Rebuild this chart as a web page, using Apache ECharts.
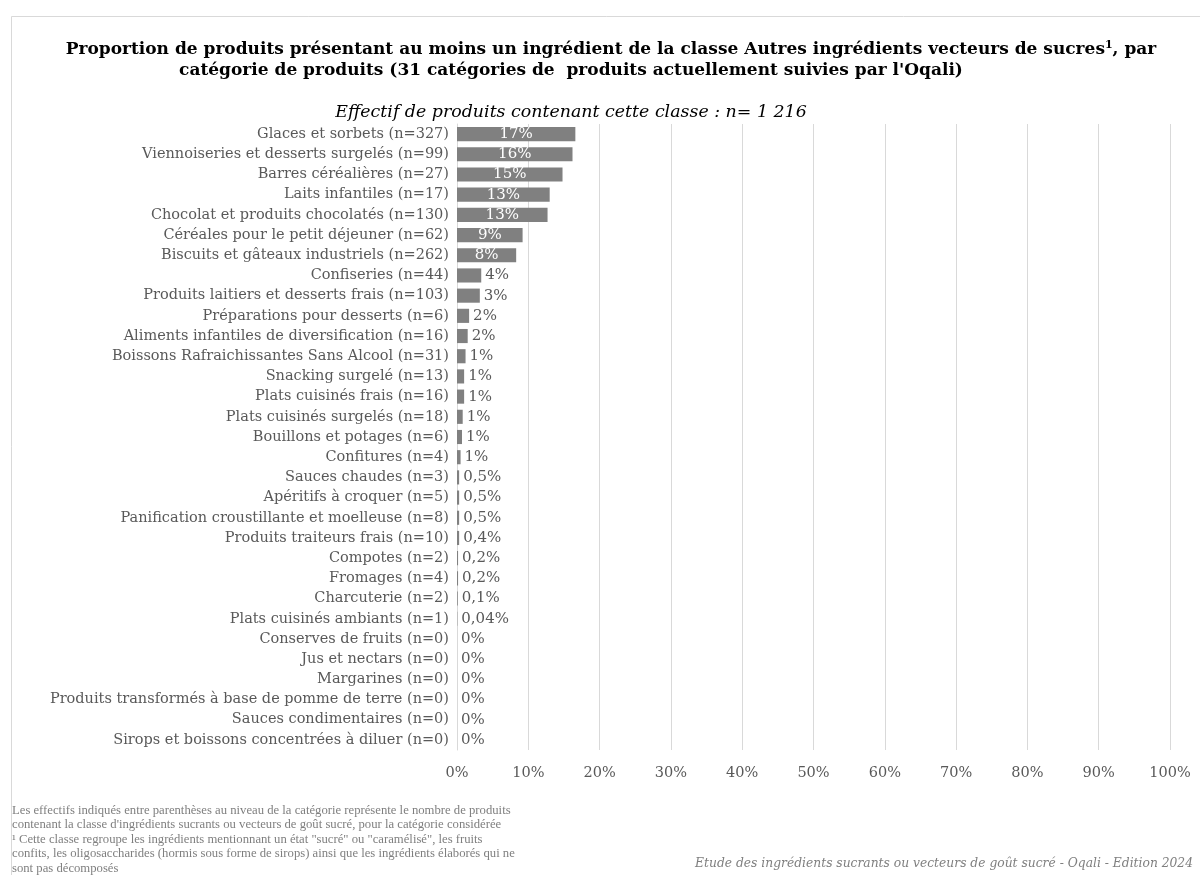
<!DOCTYPE html>
<html><head><meta charset="utf-8">
<script src="https://cdn.jsdelivr.net/npm/echarts@6/dist/echarts.min.js"></script>
<style>html,body{margin:0;padding:0;background:#fff}#c{width:1200px;height:875px}</style>
</head><body><div id="c"></div>
<script>
const categories = [
  "Glaces et sorbets (n=327)",
  "Viennoiseries et desserts surgelés (n=99)",
  "Barres céréalières (n=27)",
  "Laits infantiles (n=17)",
  "Chocolat et produits chocolatés (n=130)",
  "Céréales pour le petit déjeuner (n=62)",
  "Biscuits et gâteaux industriels (n=262)",
  "Confiseries (n=44)",
  "Produits laitiers et desserts frais (n=103)",
  "Préparations pour desserts (n=6)",
  "Aliments infantiles de diversification (n=16)",
  "Boissons Rafraichissantes Sans Alcool (n=31)",
  "Snacking surgelé (n=13)",
  "Plats cuisinés frais (n=16)",
  "Plats cuisinés surgelés (n=18)",
  "Bouillons et potages (n=6)",
  "Confitures (n=4)",
  "Sauces chaudes (n=3)",
  "Apéritifs à croquer (n=5)",
  "Panification croustillante et moelleuse (n=8)",
  "Produits traiteurs frais (n=10)",
  "Compotes (n=2)",
  "Fromages (n=4)",
  "Charcuterie (n=2)",
  "Plats cuisinés ambiants (n=1)",
  "Conserves de fruits (n=0)",
  "Jus et nectars (n=0)",
  "Margarines (n=0)",
  "Produits transformés à base de pomme de terre (n=0)",
  "Sauces condimentaires (n=0)",
  "Sirops et boissons concentrées à diluer (n=0)"
];
const values = [16.6, 16.2, 14.8, 13.0, 12.7, 9.2, 8.3, 3.4, 3.2, 1.7, 1.5, 1.2, 1.0, 1.0, 0.8, 0.7, 0.5, 0.3, 0.3, 0.3, 0.3, 0.15, 0.15, 0.1, 0.04, 0, 0, 0, 0, 0, 0];
const valueLabels = ["17%","16%","15%","13%","13%","9%","8%","4%","3%","2%","2%","1%","1%","1%","1%","1%","1%","0,5%","0,5%","0,5%","0,4%","0,2%","0,2%","0,1%","0,04%","0%","0%","0%","0%","0%","0%"];
const xTicks = [0,10,20,30,40,50,60,70,80,90,100];

const FONT = "DejaVu Serif";
const chart = echarts.init(document.getElementById('c'), null, {renderer:'canvas'});

const data = values.map((v,i)=>{
  const inside = v >= 5;
  return {
    value: v,
    label: inside ? {position:'inside', color:'#ffffff'} : {position:'right', color:'#595959', distance: 4}
  };
});

chart.setOption({
  backgroundColor:'#ffffff',
  animation:false,
  grid:{left:457, right:30, top:124, bottom:125, containLabel:false},
  xAxis:{type:'value', min:0, max:100, interval:10,
    axisLabel:{formatter:v=>v+'%', fontFamily:FONT, fontSize:14.5, color:'#595959', margin:16},
    axisLine:{show:false}, axisTick:{show:false},
    splitLine:{lineStyle:{color:'#d9d9d9', width:1}}},
  yAxis:{type:'category', data:categories, inverse:true,
    axisLabel:{fontFamily:FONT, fontSize:14.5, color:'#595959', margin:8},
    axisLine:{show:true, lineStyle:{color:'#d9d9d9'}}, axisTick:{show:false}},
  series:[{type:'bar', data:data, barCategoryGap:'30%',
    itemStyle:{color:'#808080'},
    label:{show:true, fontFamily:FONT, fontSize:15, formatter:p=>valueLabels[p.dataIndex]}}],
  graphic:[
    {type:'rect', shape:{x:11.5, y:16.5, width:1200, height:880}, style:{fill:'none', stroke:'#d9d9d9', lineWidth:1}, silent:true},
    {type:'text', x:611, y:50, style:{text:"Proportion de produits présentant au moins un ingrédient de la classe Autres ingrédients vecteurs de sucres{s|1}, par",
      align:'center', verticalAlign:'middle', fontFamily:FONT, fontSize:17, fontWeight:'bold', fill:'#000',
      rich:{s:{fontFamily:FONT, fontSize:11, fontWeight:'bold', fill:'#000', padding:[0,0,9,0]}}}},
    {type:'text', x:571, y:71, style:{text:"catégorie de produits (31 catégories de  produits actuellement suivies par l'Oqali)",
      align:'center', verticalAlign:'middle', fontFamily:FONT, fontSize:17, fontWeight:'bold', fill:'#000'}},
    {type:'text', x:571, y:112, style:{text:"Effectif de produits contenant cette classe : n= 1 216",
      align:'center', verticalAlign:'middle', fontFamily:FONT, fontSize:17.4, fontStyle:'italic', fill:'#000'}},
    {type:'text', left:12, top:803, style:{fontFamily:"Liberation Serif", fontSize:12.7, fill:'#7f7f7f', lineHeight:14.5,
      text:"Les effectifs indiqués entre parenthèses au niveau de la catégorie représente le nombre de produits\ncontenant la classe d'ingrédients sucrants ou vecteurs de goût sucré, pour la catégorie considérée\n¹ Cette classe regroupe les ingrédients mentionnant un état \"sucré\" ou \"caramélisé\", les fruits\nconfits, les oligosaccharides (hormis sous forme de sirops) ainsi que les ingrédients élaborés qui ne\nsont pas décomposés"}},
    {type:'text', right:7, top:858, style:{fontFamily:FONT, fontSize:12.3, fontStyle:'italic', fill:'#7f7f7f',
      text:"Etude des ingrédients sucrants ou vecteurs de goût sucré - Oqali - Edition 2024"}}
  ]
});
</script></body></html>
